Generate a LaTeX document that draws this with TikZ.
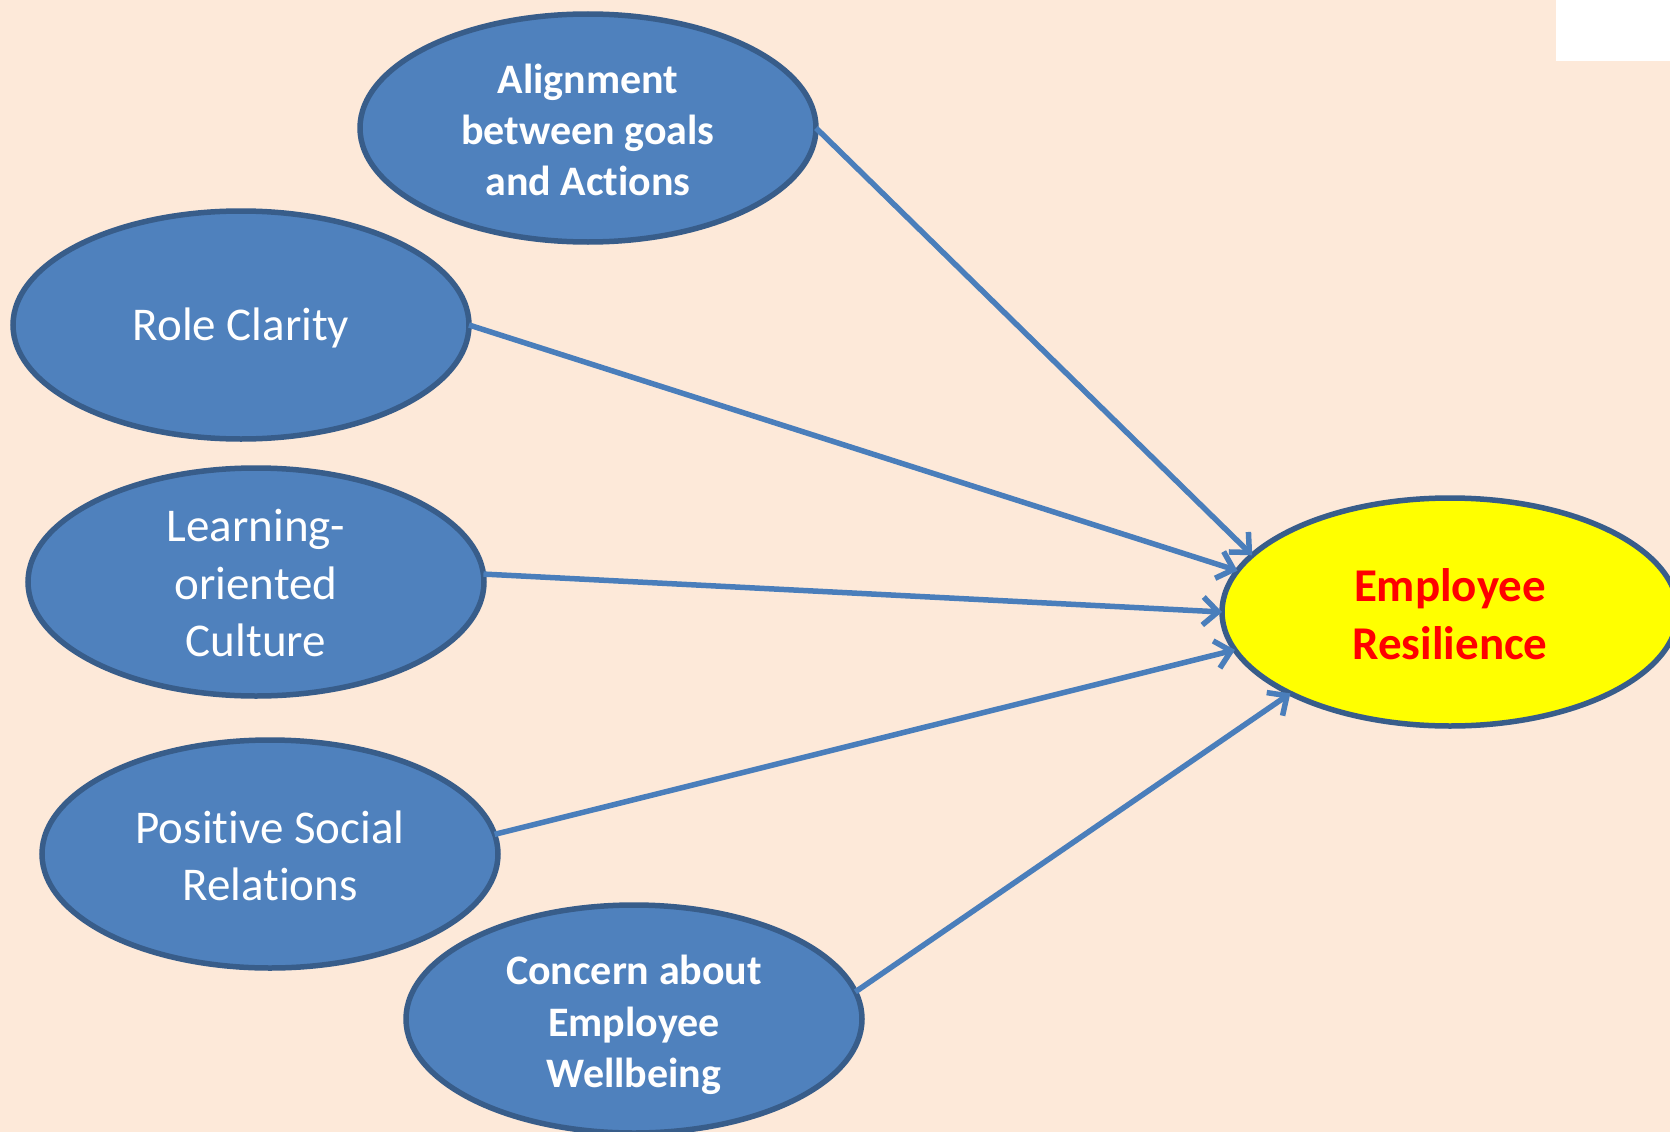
\documentclass[tikz,border=0pt]{standalone}
\usepackage{fontspec}
\setmainfont{Carlito}[Ligatures=NoCommon]
\usetikzlibrary{shapes.geometric,arrows.meta}
\definecolor{pagebg}{HTML}{FDE9D9}
\definecolor{blobfill}{HTML}{4F81BD}
\definecolor{blobline}{HTML}{385D8A}
\definecolor{linkcol}{HTML}{4A7EBB}
\definecolor{outred}{HTML}{FF0000}
\definecolor{outyellow}{HTML}{FFFF00}
\tikzset{
  blob/.style={ellipse, draw=blobline, fill=blobfill, line width=5.5pt,
    minimum width=456pt, minimum height=228pt, inner sep=0pt, outer sep=0pt},
  outcome/.style={blob, fill=outyellow},
  boldtxt/.style={text=white, align=center, inner sep=0pt,
    font=\fontsize{42}{51.2}\selectfont\bfseries},
  plaintxt/.style={text=white, align=center, inner sep=0pt,
    font=\fontsize{47}{57.3}\selectfont},
  outtxt/.style={text=outred, align=center, inner sep=0pt,
    font=\fontsize{47}{58.5}\selectfont\bfseries},
  link/.style={draw=linkcol, line width=5.5pt,
    -{Straight Barb[length=15pt,width=28pt,line width=5.5pt]}}
}
\begin{document}
\begin{tikzpicture}[x=1pt,y=-1pt]
  \useasboundingbox (0,0) rectangle (1670,1132);
  \fill[pagebg] (0,0) rectangle (1670,1132);
  \fill[white] (1556,0) rectangle (1670,61);

  % factor ellipses
  \node[blob] (align) at (588,128) {};
  \node[boldtxt] at ([yshift=-2pt]align.center) {Alignment\\between goals\\and Actions};

  \node[blob] (role) at (241,325) {};
  \node[plaintxt] at ([yshift=-3pt]role.center) {Role Clarity};

  \node[blob] (learn) at (256,582) {};
  \node[plaintxt] at ([yshift=-1pt]learn.center) {Learning-\\oriented\\Culture};

  \node[blob] (social) at (270,854) {};
  \node[plaintxt] at ([yshift=-2pt]social.center) {Positive Social\\Relations};

  \node[blob] (concern) at (634,1019) {};
  \node[boldtxt] at ([yshift=-6pt]concern.center) {Concern about\\Employee\\Wellbeing};

  % outcome
  \node[outcome] (res) at (1450,612) {};
  \node[outtxt] at ([yshift=-2pt]res.center) {Employee\\Resilience};

  % influences
  \draw[link] (align.east) -- (res.164);
  \draw[link] (role.east) -- (res.169.5);
  \draw[link] (learn.2) -- (res.180);
  \draw[link] (social.5.6) -- (res.190.5);
  \draw[link] (concern.7) -- (res.207);
\end{tikzpicture}
\end{document}
